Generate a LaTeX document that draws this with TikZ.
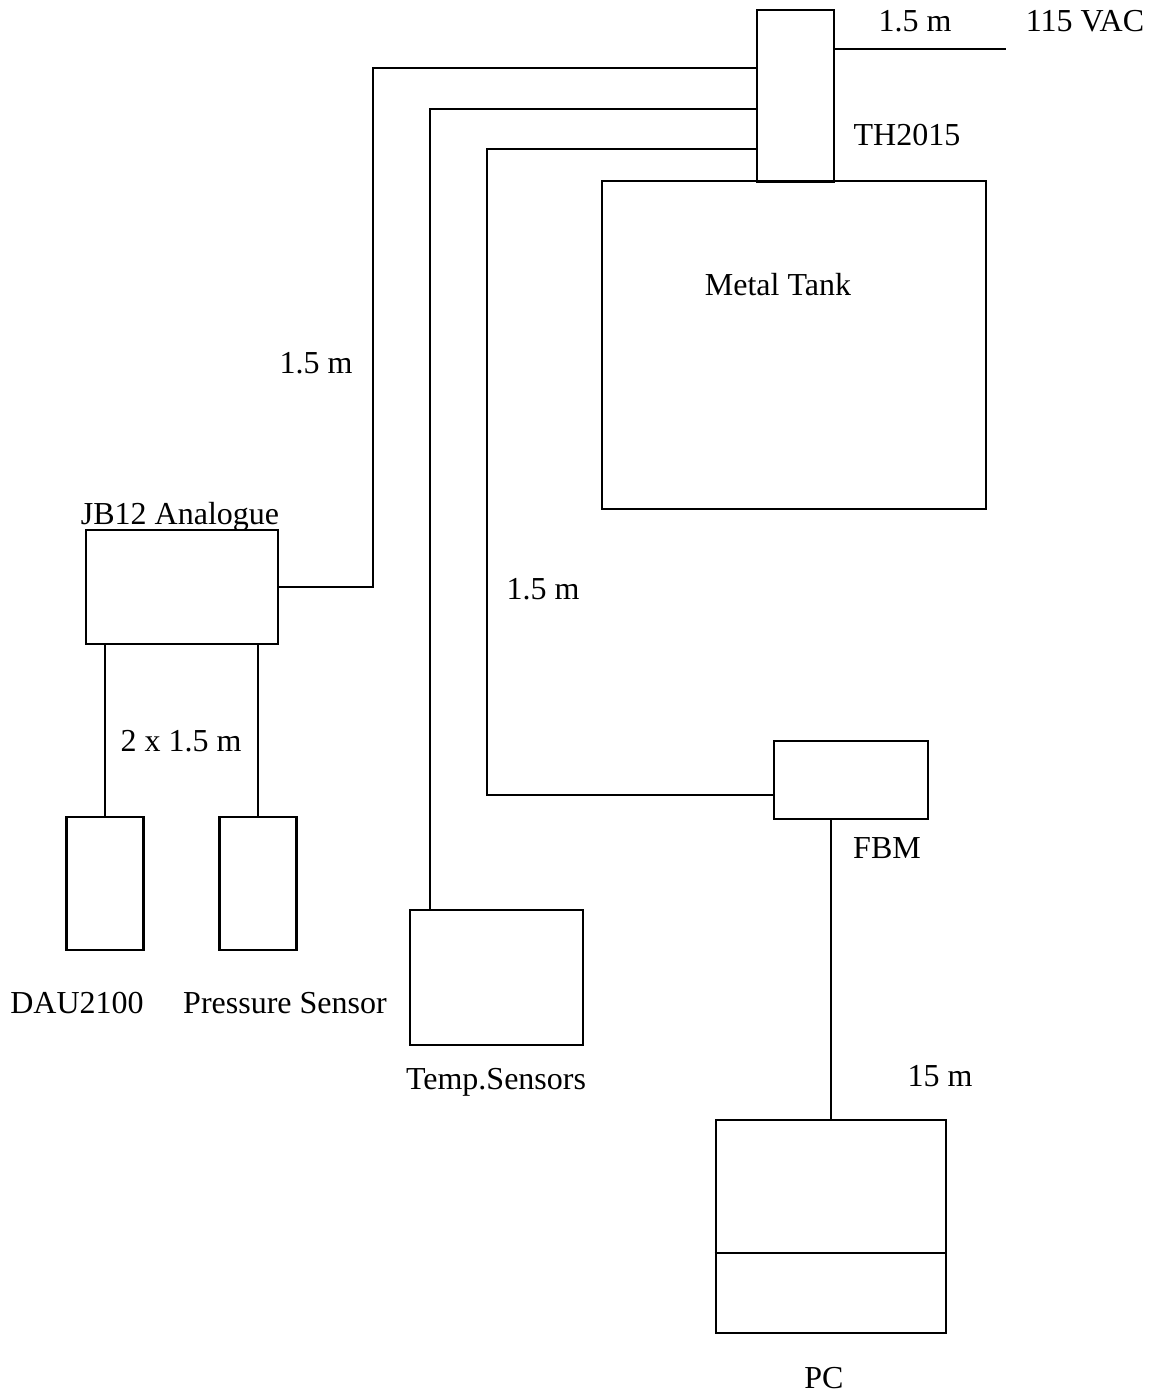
\documentclass[tikz,border=0pt]{standalone}
\usepackage{fontspec}
\setmainfont{Liberation Serif}
\begin{document}
\begin{tikzpicture}[x=1pt,y=-1pt,
  box/.style={draw,line width=2.8pt,inner sep=0pt},
  wire/.style={line width=2.8pt},
  lbl/.style={anchor=base,inner sep=0pt,font=\fontsize{32}{37}\selectfont}]
\useasboundingbox (0,0) rectangle (1154,1396);
% boxes
\node[box,minimum width=77pt,minimum height=172pt] (th) at (795.5,96) {};
\node[box,minimum width=384pt,minimum height=328pt] (tank) at (794,345) {};
\node[box,minimum width=192pt,minimum height=114pt] (jb) at (182,587) {};
\node[box,minimum width=77pt,minimum height=133pt] (dau) at (105,883.5) {};
\node[box,minimum width=77pt,minimum height=133pt] (ps) at (258,883.5) {};
\node[box,minimum width=173pt,minimum height=135pt] (ts) at (496.5,977.5) {};
\node[box,minimum width=154pt,minimum height=78pt] (fbm) at (851,780) {};
\node[box,minimum width=230pt,minimum height=213pt] (pc) at (831,1226.5) {};
% connectors
\coordinate (vac) at (1006,49);
\draw[wire] (th.east |- vac) -- (vac);
\coordinate (b1) at (373,68);
\draw[wire] (th.west |- b1) -- (b1) |- (jb.east);
\coordinate (b2) at (430,109);
\draw[wire] (th.west |- b2) -- (b2) -- (b2 |- ts.north);
\coordinate (b3) at (487,149);
\coordinate (b3b) at (487,795);
\draw[wire] (th.west |- b3) -- (b3) -- (b3b) -- (b3b -| fbm.west);
\draw[wire] (dau.north) -- (dau.north |- jb.south);
\draw[wire] (ps.north) -- (ps.north |- jb.south);
\draw[wire] (pc.north) -- (pc.north |- fbm.south);
\coordinate (pcd) at (831,1253);
\draw[wire] (pc.west |- pcd) -- (pc.east |- pcd);
% labels
\node[lbl] (l1) at (915,32) {1.5 m};
\node[lbl] (l2) at (1085,32) {115 VAC};
\node[lbl] (l3) at (907,146) {TH2015};
\node[lbl] (l4) at (778,296) {Metal Tank};
\node[lbl] (l5) at (316,373) {1.5 m};
\node[lbl] (l6) at (180,524) {JB12 Analogue};
\node[lbl] (l7) at (543,599) {1.5 m};
\node[lbl] (l8) at (181,751) {2 x 1.5 m};
\node[lbl] (l9) at (887,858) {FBM};
\node[lbl] (l10) at (77,1013) {DAU2100};
\node[lbl] (l11) at (285,1013) {Pressure Sensor};
\node[lbl] (l12) at (496,1089) {Temp.Sensors};
\node[lbl] (l13) at (940,1086) {15 m};
\node[lbl] (l14) at (824,1388) {PC};
\end{tikzpicture}
\end{document}
